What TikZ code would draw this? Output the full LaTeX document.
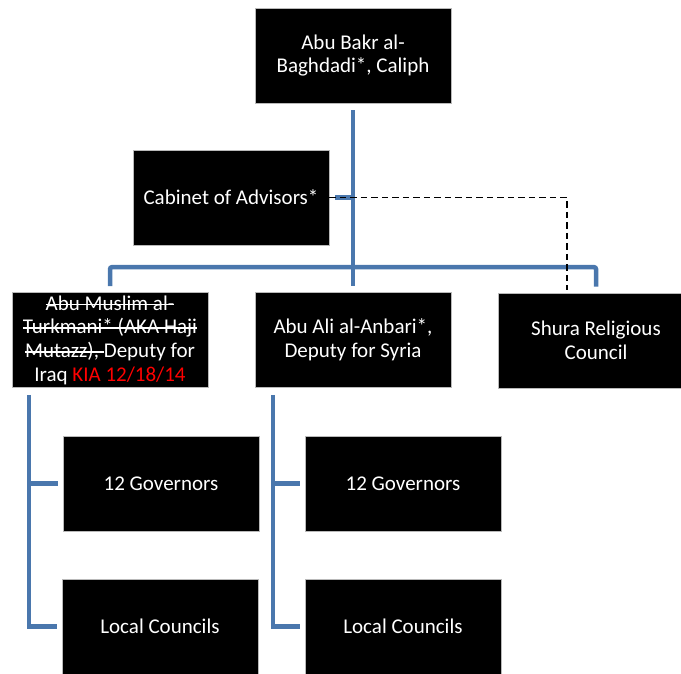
\documentclass[tikz,border=0pt]{standalone}
\usepackage{fontspec}
\setmainfont{Carlito}
\usepackage{xcolor}
\definecolor{connblue}{RGB}{74,119,173}
\newsavebox{\strkbox}
\newcommand{\strk}[1]{\sbox{\strkbox}{#1}\rlap{\vrule height 0.31em depth -0.23em width \wd\strkbox}\usebox{\strkbox}}
\begin{document}
\begin{tikzpicture}[x=1pt,y=-1pt,
  orgbox/.style={rectangle, fill=black, draw=gray!55, line width=0.7pt,
    minimum width=196pt, minimum height=95pt, inner sep=2pt,
    text=white, align=center, font=\fontsize{21}{23.7}\selectfont},
  conn/.style={draw=connblue, line width=4.5pt},
  dashline/.style={draw=black, line width=1.8pt, dash pattern=on 6.5pt off 4pt}]
\useasboundingbox (0,0) rectangle (681,673);

\node[orgbox] (top) at (353,55.5) {Abu Bakr al-\\Baghdadi*, Caliph};
\node[orgbox] (cab) at (231,197.5) {Cabinet of Advisors*};
\node[orgbox] (iraq) at (110,340) {\strk{Abu Muslim al-}\\\strk{Turkmani* (AKA Haji}\\\strk{Mutazz),\ }Deputy for\\Iraq \textcolor{red}{KIA 12/18/14}};
\node[orgbox] (syria) at (353,340) {Abu Ali al-Anbari*,\\Deputy for Syria};
\node[orgbox] (shura) at (596,340.5) {Shura Religious\\Council};
\node[orgbox] (g1) at (161,483.5) {12 Governors};
\node[orgbox] (l1) at (160,626.5) {Local Councils};
\node[orgbox] (g2) at (403,483.5) {12 Governors};
\node[orgbox] (l2) at (403,626.5) {Local Councils};

% trunk
\draw[conn] ([yshift=-7pt]top.south) -- ([yshift=6pt]syria.north);
% bar
\draw[conn, rounded corners=2pt] ([yshift=6pt]iraq.north) |- ([yshift=25pt]syria.north) -| ([yshift=6pt]shura.north);
% cabinet stub
\draw[conn] ([xshift=6pt]cab.east) -- (cab.east -| top.south);

% Iraq subtree
\coordinate (v1) at ([xshift=-81pt,yshift=-7pt]iraq.south);
\draw[conn] (v1) |- ([xshift=-5pt]l1.west);
\draw[conn] ([xshift=-5pt]g1.west) -- (v1 |- g1.west);

% Syria subtree
\coordinate (v2) at ([xshift=-80pt,yshift=-7pt]syria.south);
\draw[conn] (v2) |- ([xshift=-5pt]l2.west);
\draw[conn] ([xshift=-5pt]g2.west) -- (v2 |- g2.west);

% dashed link
\draw[dashline] (cab.east) -| ([xshift=-29pt,yshift=3pt]shura.north);
\end{tikzpicture}
\end{document}
